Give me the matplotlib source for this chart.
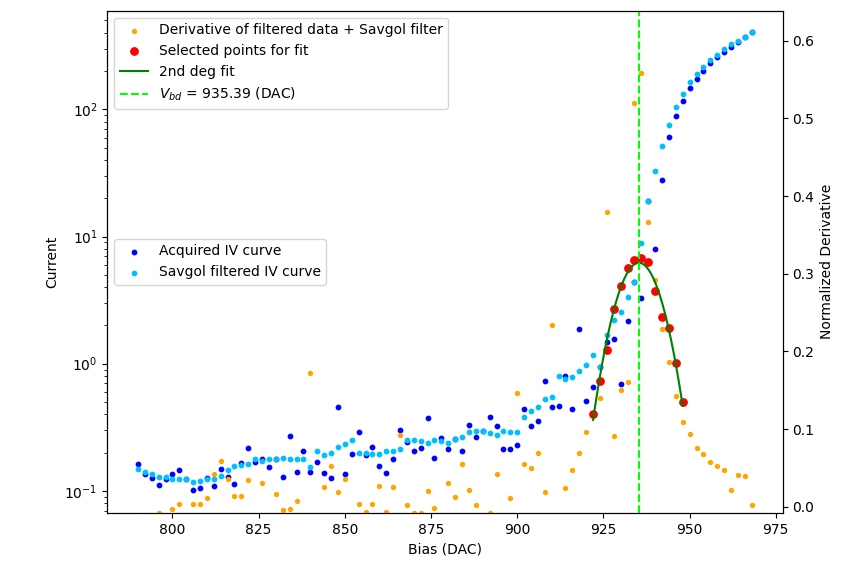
import numpy as np
import matplotlib.pyplot as plt

# bias sweep (DAC), one point every 2 DAC
bias = np.arange(790, 970, 2)

current_raw = [
    0.164, 0.135, 0.126, 0.112, 0.123, 0.135, 0.1455, 0.123, 0.1013, 0.106,
    0.126, 0.109, 0.149, 0.129, 0.114, 0.166, 0.217, 0.168, 0.177, 0.153,
    0.177, 0.129, 0.269, 0.142, 0.204, 0.142, 0.168, 0.139, 0.126, 0.453,
    0.135, 0.1945, 0.290, 0.190, 0.222, 0.156, 0.139, 0.177, 0.300, 0.2415,
    0.2067, 0.217, 0.373, 0.181, 0.260, 0.212, 0.2537, 0.2067, 0.331, 0.263,
    0.297, 0.383, 0.323, 0.212, 0.212, 0.2276, 0.437, 0.323, 0.356, 0.726,
    0.453, 0.464, 0.799, 0.443, 1.86, 0.505, 0.659, 0.95, 1.48, 1.55,
    0.691, 2.15, 4.39, 3.28, 18.9, 7.93, 27.8, 61.1, 88.7, 117,
    146, 172.5, 202, 233, 257, 283, 312, 337, 369, 403,
]

current_savgol = [
    0.149, 0.142, 0.135, 0.129, 0.129, 0.123, 0.123, 0.123, 0.117, 0.120,
    0.123, 0.123, 0.132, 0.146, 0.156, 0.160, 0.164, 0.177, 0.172, 0.177,
    0.177, 0.181, 0.177, 0.177, 0.177, 0.153, 0.204, 0.190, 0.1995, 0.2195,
    0.233, 0.2505, 0.1995, 0.1995, 0.1945, 0.1945, 0.2067, 0.204, 0.212, 0.2505,
    0.2505, 0.248, 0.239, 0.2505, 0.248, 0.236, 0.257, 0.263, 0.290, 0.297,
    0.297, 0.283, 0.276, 0.297, 0.290, 0.290, 0.383, 0.421, 0.453, 0.531,
    0.543, 0.799, 0.762, 0.780, 0.870, 0.970, 1.162, 0.95, 1.67, 2.20,
    2.55, 3.37, 4.39, 8.96, 18.9, 32.6, 51.5, 75, 104, 132,
    163, 188, 217, 245, 270, 297, 327, 343, 374, 403,
]

nan = np.nan
derivative = [
    nan, nan, nan, -0.0077, nan, -0.003, 0.0039, nan, 0.0039, 0.0039,
    0.0116, 0.0425, 0.0588, 0.0357, 0.0142, 0.0142, 0.034, nan, 0.0305, nan,
    0.016, -0.0046, -0.003, 0.0073, nan, 0.172, nan, 0.0254, 0.0528, 0.0193,
    0.0357, nan, 0.0039, -0.0064, 0.0039, 0.027, -0.0064, 0.0254, 0.0923, 0.0022,
    -0.008, -0.008, 0.0202, -0.0013, nan, 0.0305, 0.0125, 0.0546, 0.0219, 0.0022,
    nan, -0.008, 0.0425, nan, 0.0108, 0.146, 0.0554, 0.0494, 0.0691, 0.0193,
    0.234, nan, 0.0245, 0.0476, 0.0691, 0.0966, nan, 0.1403, 0.379, 0.0914,
    0.1506, 0.160, 0.520, 0.558, 0.367, 0.292, 0.2288, 0.1867, 0.1421, 0.1094,
    0.0932, 0.076, 0.0675, 0.058, 0.0528, 0.0476, 0.0211, 0.0408, 0.0391, 0.0022,
]

sel_bias = [922, 924, 926, 928, 930, 932, 934, 936, 938, 940, 942, 944, 946, 948]
sel_deriv = [0.1197, 0.1618, 0.2018, 0.255, 0.2845, 0.307, 0.318, 0.3198,
             0.3147, 0.2777, 0.2442, 0.2305, 0.185, 0.1352]

V_BD = 935.39

fig, ax1 = plt.subplots(figsize=(8.48, 5.71), dpi=100)
fig.subplots_adjust(left=0.1265, right=0.923, bottom=0.1016, top=0.9813)

ax1.scatter(bias, current_raw, s=10, color='blue', label='Acquired IV curve')
ax1.scatter(bias, current_savgol, s=10, color='deepskyblue', label='Savgol filtered IV curve')
ax1.set_yscale('log')
ax1.set_ylim(0.067, 597)
ax1.set_xlim(781.1, 977.0)
ax1.set_xlabel('Bias (DAC)')
ax1.set_ylabel('Current')
ax1.legend(loc='center left')

ax2 = ax1.twinx()
ax2.scatter(bias, derivative, s=8, color='orange',
            label='Derivative of filtered data + Savgol filter')
ax2.scatter(sel_bias, sel_deriv, s=28, color='red', label='Selected points for fit')
coef = np.polyfit(sel_bias, sel_deriv, 2)
x_fit = np.linspace(min(sel_bias), max(sel_bias), 200)
ax2.plot(x_fit, np.polyval(coef, x_fit), color='green', label='2nd deg fit')
ax2.axvline(V_BD, color='lime', linestyle='--', label=r'$V_{bd}$ = %.2f (DAC)' % V_BD)
ax2.set_ylim(-0.0081, 0.6386)
ax2.set_ylabel('Normalized Derivative')
ax2.legend(loc='upper left')

fig.savefig('out.png')
